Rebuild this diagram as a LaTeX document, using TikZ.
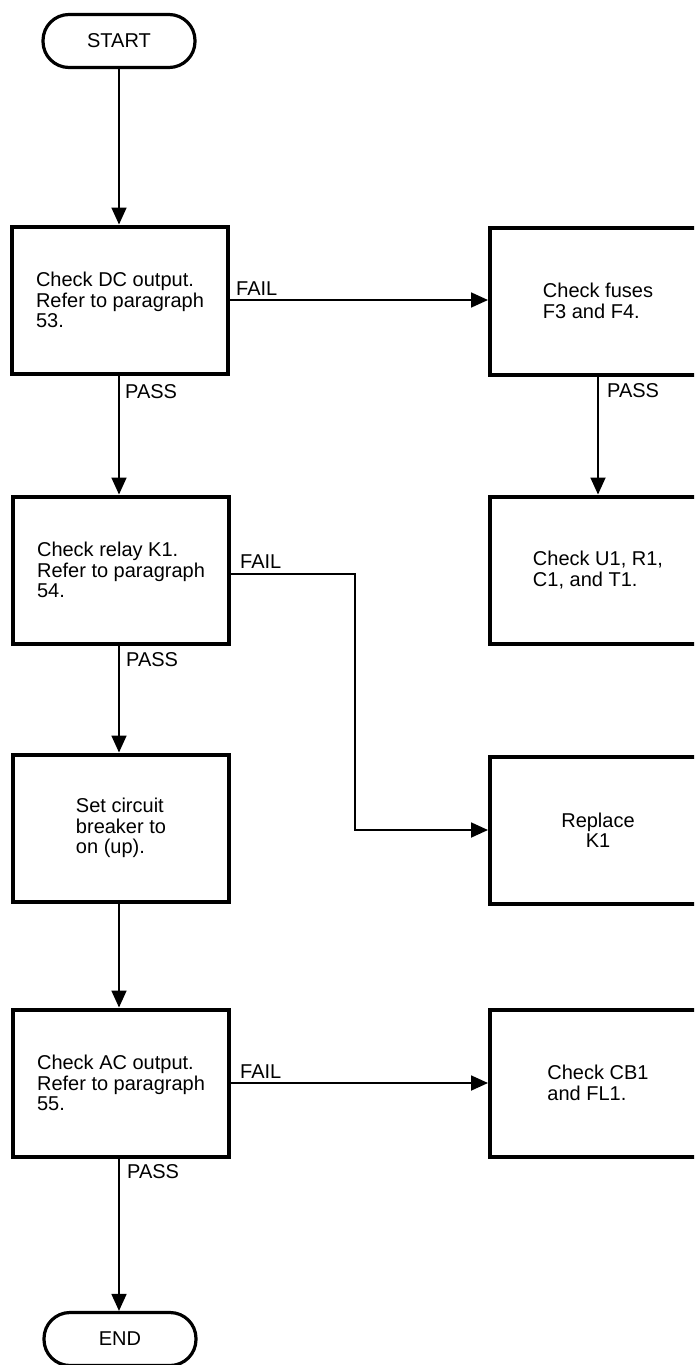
\documentclass[tikz,border=0pt]{standalone}
\usepackage{fontspec}
\setmainfont{Liberation Sans}
\usetikzlibrary{arrows.meta}
\begin{document}
\begin{tikzpicture}[x=1pt,y=-1pt,
  every node/.style={font=\fontsize{20}{20.5}\selectfont},
  box/.style={draw, line width=4pt, minimum width=216pt, minimum height=147pt, align=left, inner sep=0pt},
  term/.style={draw, line width=3.2pt, rounded corners=26pt, minimum width=152pt, minimum height=53pt, inner sep=0pt},
  conn/.style={line width=1.8pt, -{Triangle[length=17pt,width=15pt]}},
  lbl/.style={inner sep=0pt, anchor=base west}]
\useasboundingbox (0,0) rectangle (694,1365);
\clip (0,0) rectangle (694,1365);
% nodes
\node[term] (start) at (119,41) {START};
\node[box] (b1) at (120,300) {Check DC output.\\Refer to paragraph\\53.};
\node[box] (f34) at (598,301) {Check fuses\\F3 and F4.};
\node[box] (relay) at (121,570) {Check relay K1.\\Refer to paragraph\\54.};
\node[box] (u1) at (598,570) {Check U1, R1,\\C1, and T1.};
\node[box] (setcb) at (121,828) {Set circuit\\breaker to\\on (up).};
\node[box, align=center] (repl) at (598,830) {Replace\\K1};
\node[box] (ac) at (121,1083) {Check AC output.\\Refer to paragraph\\55.};
\node[box] (cb1) at (598,1083) {Check CB1\\and FL1.};
\node[term] (end) at (120,1339) {END};
% connectors
\draw[conn] (start.south) -- (start.south |- b1.north);
\draw[conn] (start.south |- b1.south) -- (start.south |- relay.north);
\draw[conn] (start.south |- relay.south) -- (start.south |- setcb.north);
\draw[conn] (start.south |- setcb.south) -- (start.south |- ac.north);
\draw[conn] (start.south |- ac.south) -- (start.south |- end.north);
\draw[conn] (b1.east) -- (b1.east -| f34.west);
\draw[conn] (f34.south) -- (u1.north);
\coordinate (bend) at (355,574);
\draw[conn] ([yshift=-4pt]relay.east) -- (bend) |- (repl.west);
\draw[conn] (ac.east) -- (ac.east -| cb1.west);
% labels
\node[lbl] (fail1) at (236,295) {FAIL};
\node[lbl] (pass1) at (125,398) {PASS};
\node[lbl] (pass2) at (607,397) {PASS};
\node[lbl] (fail2) at (240,568) {FAIL};
\node[lbl] (pass3) at (126,666) {PASS};
\node[lbl] (fail3) at (240,1078) {FAIL};
\node[lbl] (pass4) at (127,1178) {PASS};
\end{tikzpicture}
\end{document}
